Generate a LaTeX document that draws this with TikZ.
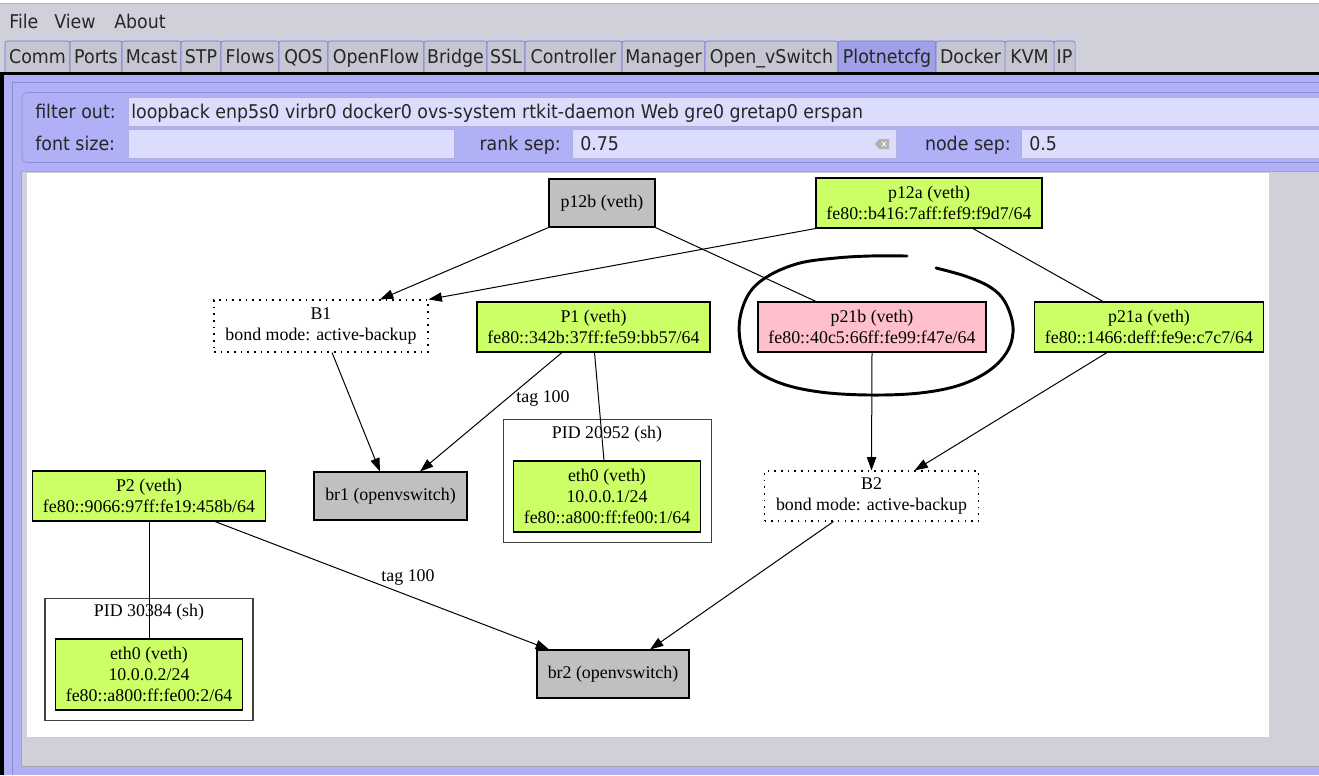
\documentclass[tikz,border=0pt]{standalone}
\usepackage{fontspec}
\setmainfont{Liberation Serif}
\newfontfamily\guifont[FakeStretch=0.92]{DejaVu Sans}
\usetikzlibrary{positioning}
\usetikzlibrary{calc}
\usetikzlibrary{arrows.meta}

\definecolor{winbg}{RGB}{208,208,218}
\definecolor{lav}{RGB}{176,176,246}
\definecolor{lavline}{RGB}{140,140,214}
\definecolor{entryfill}{RGB}{220,220,252}
\definecolor{tabline}{RGB}{112,112,226}
\definecolor{tabfill}{RGB}{198,198,210}
\definecolor{tabsel}{RGB}{160,160,232}
\definecolor{vethgreen}{RGB}{204,255,102}
\definecolor{vethpink}{RGB}{255,192,203}
\definecolor{devgray}{RGB}{192,192,192}

\newcommand\graphfont{\fontsize{13.4}{15.8}\selectfont}
\newcommand\uifont{\guifont\fontsize{14.2}{16}\selectfont}

\begin{document}
\begin{tikzpicture}[x=0.75pt, y=-0.75pt,
  gui/.style = {font=\uifont, text=black!85, inner sep=0pt},
  entrybox/.style = {fill=entryfill, draw=lavline!70},
  box/.style = {shape=rectangle, draw, line width=0.8pt, align=center,
                font=\graphfont, inner sep=0pt, minimum height=37.5pt},
  veth/.style = {box, fill=vethgreen},
  marked/.style = {box, fill=vethpink},
  gone/.style = {box, fill=devgray},
  bond/.style = {box, dash pattern=on 1.2pt off 3.8pt},
  pid/.style = {box, draw=black!75, minimum width=156pt, minimum height=92pt},
  lbl/.style = {font=\graphfont, inner sep=0pt},
  link/.style = {line width=0.75pt},
  arr/.style = {link, -{Triangle[length=10pt, width=7pt]}}]
  \clip (0,0) rectangle (1319,775);

  % window, menu and tabs
  \fill[winbg] (0,0) rectangle (1319,775);
  \fill[white] (0,0) rectangle (1319,3);
  \draw[black!30] (0,3.5) -- (1319,3.5);
  \node[gui, anchor=base west] (mfile) at (9,28) {File};
  \node[gui, anchor=base west] (mview) at (54,28) {View};
  \node[gui, anchor=base west] (mabout) at (114,28) {About};
  \foreach \l/\r/\t/\c [count=\i] in {5/70/Comm/tabfill, 70/122/Ports/tabfill,
      122/181/Mcast/tabfill, 181/221/STP/tabfill, 221/279/Flows/tabfill,
      279/328/QOS/tabfill, 328/424/OpenFlow/tabfill, 424/487/Bridge/tabfill,
      487/525/SSL/tabfill, 525/622/Controller/tabfill, 622/705/Manager/tabfill,
      705/838/Open\_vSwitch/tabfill, 838/936/Plotnetcfg/tabsel,
      936/1005/Docker/tabfill, 1005/1054/KVM/tabfill, 1054/1075/IP/tabfill} {
    \draw[tabline, fill=\c, rounded corners=1.5pt] (\l,73) -- (\l,41) -- (\r,41) -- (\r,73);
    \node[gui, anchor=base] (tab\i) at ({(\l+\r)/2},63) {\t};
  }

  % notebook page and settings
  \fill[black] (0,72) rectangle (1319,75);
  \fill[black] (0,72) rectangle (4,775);
  \fill[lav] (4,75) rectangle (1319,775);
  \draw[lavline] (12,775) -- (12,82.5) -- (1319,82.5);
  \draw[lavline, rounded corners=4pt] (1330,92.5) -- (22,92.5) -- (22,162.5) -- (1330,162.5);
  \draw[entrybox] (128,97) rectangle (1330,126);
  \draw[entrybox] (128,129) rectangle (454,158);
  \draw[entrybox] (572,129) rectangle (896,158);
  \draw[entrybox] (1021,129) rectangle (1330,158);
  \node[gui, anchor=base west] (filterlbl) at (35,118) {filter out:};
  \node[gui, anchor=base west] (fontlbl) at (35,150) {font size:};
  \node[gui, anchor=base west] (filtertxt) at (131,118)
    {loopback enp5s0 virbr0 docker0 ovs-system rtkit-daemon Web gre0 gretap0 erspan};
  \node[gui, anchor=base east] (ranklbl) at (561,150) {rank sep:};
  \node[gui, anchor=base west] (ranktxt) at (580,150) {0.75};
  \node[gui, anchor=base east] (nodelbl) at (1011,150) {node sep:};
  \node[gui, anchor=base west] (nodetxt) at (1029,150) {0.5};
  \fill[black!30] (875,144) -- (879,139) -- (889,139) -- (889,149) -- (879,149) -- cycle;
  \draw[white, line width=0.6pt] (882,141.5) -- (886,146.5) (882,146.5) -- (886,141.5);

  % graph view
  \fill[winbg] (21,171) rectangle (1330,766);
  \draw[black!35] (21,766) -- (21,171.5) -- (1330,171.5);
  \draw[black!35] (21,766.5) -- (1330,766.5);
  \fill[white] (27,173) rectangle (1269,737);

  \node[gone, minimum width=79.5pt, minimum height=36pt] (p12b) at (602,203) {p12b (veth)};
  \node[veth, minimum width=169.5pt] (p12a) at (929,203) {p12a (veth)\\fe80::b416:7aff:fef9:f9d7/64};
  \node[bond, minimum width=160.5pt, minimum height=39pt] (B1) at (321,326) {B1\\bond mode: active-backup};
  \node[veth, minimum width=174.75pt] (P1) at (593.5,327) {P1 (veth)\\fe80::342b:37ff:fe59:bb57/64};
  \node[marked, minimum width=171pt] (p21b) at (872,327) {p21b (veth)\\fe80::40c5:66ff:fe99:f47e/64};
  \node[veth, minimum width=172pt] (p21a) at (1149,327) {p21a (veth)\\fe80::1466:deff:fe9e:c7c7/64};
  \node[gone, minimum width=114.75pt, minimum height=36pt] (br1) at (390.5,496) {br1 (openvswitch)};
  \node[pid] (pid1) at (607.5,481) {};
  \node[lbl] (pid1lbl) at (607,434) {PID 20952 (sh)};
  \node[veth, minimum width=140.25pt, minimum height=53.25pt] (eth0a) at (607,496.5)
    {eth0 (veth)\\10.0.0.1/24\\fe80::a800:ff:fe00:1/64};
  \node[veth, minimum width=174.75pt] (P2) at (149,496) {P2 (veth)\\fe80::9066:97ff:fe19:458b/64};
  \node[bond, minimum width=160.5pt] (B2) at (871.5,496) {B2\\bond mode: active-backup};
  \node[pid] (pid2) at (149,659.5) {};
  \node[lbl] (pid2lbl) at (149,612) {PID 30384 (sh)};
  \node[veth, minimum width=140.25pt, minimum height=53.25pt] (eth0b) at (149,674.5)
    {eth0 (veth)\\10.0.0.2/24\\fe80::a800:ff:fe00:2/64};
  \node[gone, minimum width=114pt, minimum height=36pt] (br2) at (613,674) {br2 (openvswitch)};

  \draw[arr] (p12b.south west) -- ($(B1.north)+(59,0)$);
  \draw[arr] (p12a.south west) -- (B1.north east);
  \draw[link] (p12b.south east) -- ($(p21b.north)+(-56,0)$);
  \draw[link] ($(p12a.south)+(44,0)$) -- ($(p21a.north)+(-46,0)$);
  \draw[arr] ($(B1.south)+(11,0)$) -- ($(br1.north)+(-10.5,0)$);
  \draw[arr] ($(P1.south)+(-31.5,0)$) -- ($(br1.north)+(29.5,0)$);
  \draw[link] ($(P1.south)+(1,0)$) -- ($(eth0a.north)+(-3,0)$);
  \draw[arr] (p21b.south) -- (B2.north);
  \draw[arr] ($(p21a.south)+(-42,0)$) -- ($(B2.north)+(43,0)$);
  \draw[link] (P2.south) -- (eth0b.north);
  \draw[arr] ($(P2.south)+(66,0)$) -- ($(br2.north)+(-64,0)$);
  \draw[arr] ($(B2.south)+(-38,0)$) -- ($(br2.north)+(37,0)$);
  \node[lbl] (tagone) at (543,398) {tag 100};
  \node[lbl] (tagtwo) at (408,577) {tag 100};

  % hand drawn ring round p21b
  \draw[line width=2.2pt, line cap=round] plot[smooth, tension=0.6] coordinates {
    (907,256) (870,256) (836,258) (800,263) (770,275) (750,292) (740,318)
    (741,345) (752,367) (780,383) (820,392) (870,395) (920,393) (960,385)
    (990,370) (1008,350) (1013,327) (1005,302) (990,287) (965,276) (936,268)};
\end{tikzpicture}
\end{document}
